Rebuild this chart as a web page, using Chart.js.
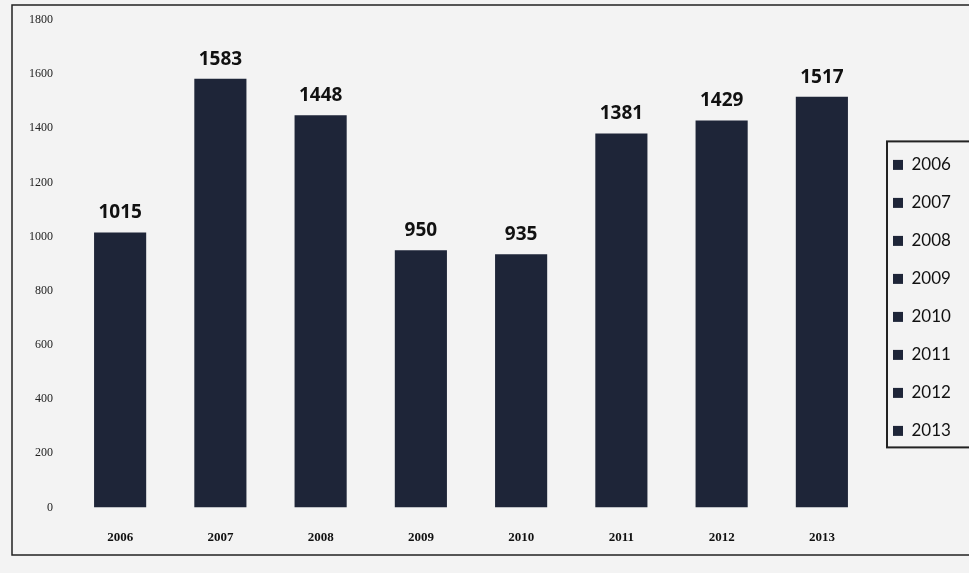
<!DOCTYPE html>
<html>
<head>
<meta charset="utf-8">
<script src="https://cdn.jsdelivr.net/npm/chart.js@4/dist/chart.umd.min.js"></script>
<style>
  html, body { margin: 0; padding: 0; background: #f3f3f3; }
  #wrap { position: relative; width: 969px; height: 573px; }
</style>
</head>
<body>
<div id="wrap"><canvas id="grafico" width="969" height="573"></canvas></div>
<script>
// --- Dados ---
const anos = ['2006', '2007', '2008', '2009', '2010', '2011', '2012', '2013'];
const valores = [1015, 1583, 1448, 950, 935, 1381, 1429, 1517];
const corBarra = '#1e2538';

// largura fixa da legenda (para a área do gráfico terminar perto de x=870)
const larguraLegenda = {
    id: 'larguraLegenda',
    beforeInit(chart) {
        const lg = chart.legend;
        if (!lg) return;
        const fitOriginal = lg.fit;
        lg.fit = function () {
            fitOriginal.call(this);
            this.width = 97;
        };
    }
};

// moldura do gráfico + caixa da legenda
const molduraPlugin = {
    id: 'moldura',
    afterDraw(chart) {
        const ctx = chart.ctx;
        ctx.save();
        ctx.strokeStyle = '#222';
        ctx.lineWidth = 1.5;
        ctx.strokeRect(12, 5, 975, 550);
        const caixas = chart.legend.legendHitBoxes;
        if (caixas && caixas.length) {
            const primeira = caixas[0];
            const ultima = caixas[caixas.length - 1];
            ctx.lineWidth = 2;
            ctx.strokeRect(primeira.left - 6, primeira.top - 15, 100, ultima.top + ultima.height - primeira.top + 23);
        }
        ctx.restore();
    }
};

// rótulos de valor em cima das barras
const rotulosPlugin = {
    id: 'rotulos',
    afterDatasetsDraw(chart) {
        const ctx = chart.ctx;
        const meta = chart.getDatasetMeta(0);
        ctx.save();
        ctx.font = 'bold 19px "Open Sans", sans-serif';
        ctx.fillStyle = '#111';
        ctx.textAlign = 'center';
        ctx.textBaseline = 'bottom';
        meta.data.forEach((bar, i) => {
            ctx.fillText(valores[i], bar.x, bar.y - 10);
        });
        ctx.restore();
    }
};

const ctx = document.getElementById('grafico').getContext('2d');
new Chart(ctx, {
    type: 'bar',
    data: {
        labels: anos,
        datasets: [{
            label: 'Valores',
            data: valores,
            backgroundColor: corBarra,
            borderWidth: 0,
            categoryPercentage: 1,
            barPercentage: 0.52
        }]
    },
    options: {
        responsive: false,
        animation: false,
        layout: { padding: { left: 12, top: 20, right: 0, bottom: 14 } },
        plugins: {
            tooltip: { enabled: false },
            legend: {
                position: 'right',
                align: 'center',
                title: { display: true, text: ' ', padding: 0, font: { size: 14 } },
                labels: {
                    boxWidth: 10,
                    boxHeight: 10,
                    padding: 21,
                    color: '#111',
                    font: { size: 17, family: 'Lato, sans-serif' },
                    generateLabels: () => anos.map(a => ({
                        text: a,
                        fillStyle: corBarra,
                        strokeStyle: corBarra,
                        fontColor: '#111',
                        lineWidth: 0
                    }))
                }
            }
        },
        scales: {
            x: {
                grid: { display: false },
                border: { display: false },
                ticks: {
                    color: '#111',
                    padding: 14,
                    font: { size: 13, weight: 'bold', family: '"Liberation Serif", serif' }
                }
            },
            y: {
                min: 0,
                max: 1800,
                grid: { display: false },
                border: { display: false },
                afterFit: s => { s.width = 58; },
                ticks: {
                    stepSize: 200,
                    color: '#222',
                    padding: 9,
                    callback: v => String(v),
                    font: { size: 12, family: '"Liberation Serif", serif' }
                }
            }
        }
    },
    plugins: [larguraLegenda, molduraPlugin, rotulosPlugin]
});
</script>
</body>
</html>
